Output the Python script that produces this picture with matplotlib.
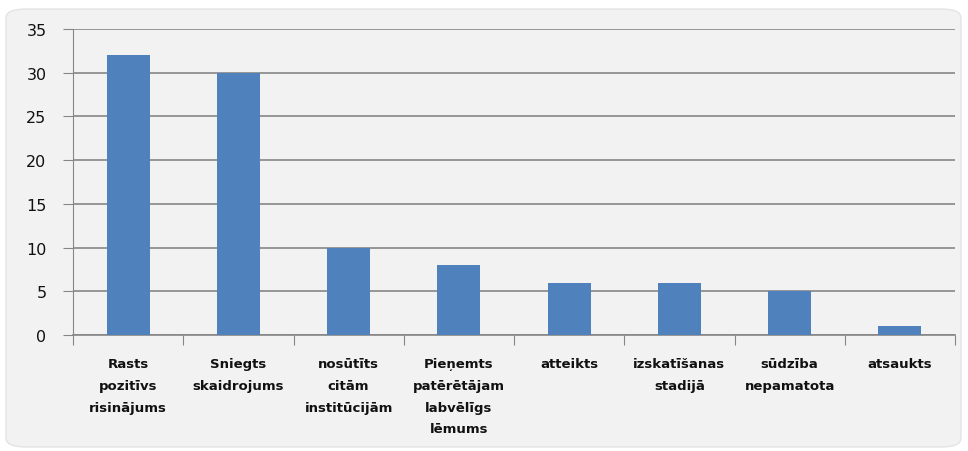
"""
Bar chart of complaint outcomes
"""

import matplotlib
matplotlib.use("Agg")
import matplotlib.pyplot as plt
from matplotlib.patches import FancyBboxPatch

# Category labels (multi-line as in the original)
categories = [
    "Rasts\npozitīvs\nrisinājums",
    "Sniegts\nskaidrojums",
    "nosūtīts\ncitām\ninstitūcijām",
    "Pieņemts\npatērētājam\nlabvēlīgs\nlēmums",
    "atteikts",
    "izskatīšanas\nstadijā",
    "sūdzība\nnepamatota",
    "atsaukts",
]
# Number of cases per outcome
values = [32, 30, 10, 8, 6, 6, 5, 1]
y_ticks = [0, 5, 10, 15, 20, 25, 30, 35]

BAR_COLOR = "#4F81BD"
BG_COLOR = "#F2F2F2"
GRID_COLOR = "#868686"

W, H = 968, 452
fig = plt.figure(figsize=(W / 100, H / 100), dpi=100)
fig.patch.set_facecolor("white")

# Rounded chart-area background
bg = FancyBboxPatch((6 / W, 4 / H), 955 / W, 438 / H,
                    boxstyle="round,pad=0,rounding_size=0.02",
                    transform=fig.transFigure, facecolor=BG_COLOR,
                    edgecolor="#E4E4E4", linewidth=1, zorder=-10)
fig.patches.append(bg)

# Plot area in pixel coordinates
left, right, top, bottom = 73, 955, 30, 336
ax = fig.add_axes([left / W, 1 - bottom / H, (right - left) / W, (bottom - top) / H])
ax.set_facecolor("none")
ax.set_zorder(1)

x = range(len(values))
ax.bar(x, values, width=0.39, color=BAR_COLOR, zorder=3)

ax.set_xlim(-0.5, len(values) - 0.5)
ax.set_ylim(0, 35)
ax.set_yticks(y_ticks)
ax.yaxis.grid(True, color=GRID_COLOR, linewidth=1.2)
ax.set_axisbelow(True)

for side in ["top", "right"]:
    ax.spines[side].set_visible(False)
ax.spines["left"].set_color(GRID_COLOR)
ax.spines["bottom"].set_color(GRID_COLOR)
ax.spines["bottom"].set_linewidth(1.2)

# Ticks: y on the left, x at category boundaries
ax.tick_params(axis="y", length=7, color=GRID_COLOR, pad=12, labelsize=11.5,
               labelcolor="#111111")
ax.set_xticks([i - 0.5 for i in range(len(values) + 1)])
ax.set_xticklabels([])
ax.tick_params(axis="x", length=7, color=GRID_COLOR)

for i, label in enumerate(categories):
    ax.annotate(label, xy=(i, 0), xycoords=("data", "axes fraction"),
                xytext=(0, -22), textcoords="offset pixels",
                ha="center", va="top", fontsize=9.5, fontweight="bold",
                linespacing=1.88, color="#111111")

fig.savefig("out.png", dpi=100, facecolor=fig.get_facecolor())
